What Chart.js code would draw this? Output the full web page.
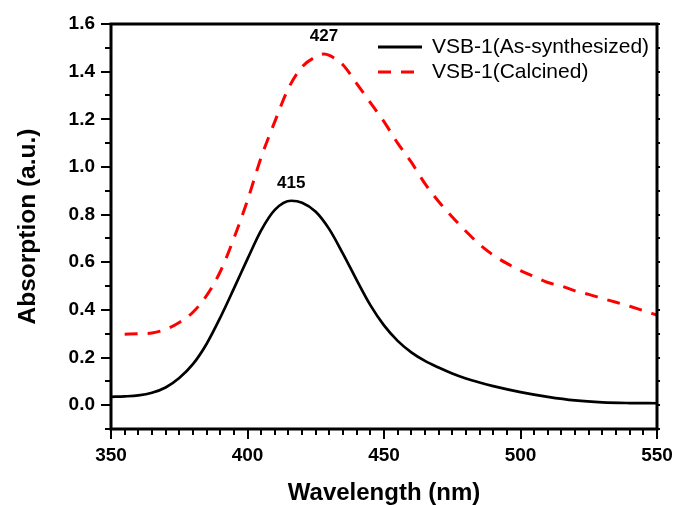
<!DOCTYPE html>
<html>
<head>
<meta charset="utf-8">
<script src="https://cdn.jsdelivr.net/npm/chart.js@4.4.0/dist/chart.umd.min.js"></script>
<style>
  html, body { margin: 0; padding: 0; background: #fff; }
  #wrap { width: 677px; height: 505px; }
</style>
</head>
<body>
<div id="wrap"><canvas id="uvChart" width="677" height="505"></canvas></div>
<script>
// wavelengths (nm) and absorption
const asSynthWl = [350, 355, 360, 365, 370, 375, 380, 385, 390, 395, 400, 405, 410, 416, 420, 425, 430, 435, 440, 445, 450, 455, 460, 465, 470, 475, 480, 485, 490, 500, 510, 520, 530, 540, 550];
const asSynthAbs = [0.035, 0.037, 0.041, 0.052, 0.074, 0.114, 0.172, 0.257, 0.367, 0.489, 0.614, 0.734, 0.82, 0.858, 0.85, 0.812, 0.738, 0.635, 0.525, 0.42, 0.335, 0.27, 0.222, 0.186, 0.158, 0.133, 0.112, 0.095, 0.08, 0.055, 0.035, 0.02, 0.012, 0.009, 0.008];

const calcinedWl = [355, 360, 365, 370, 375, 380, 385, 390, 395, 400, 405, 410, 415, 420, 425, 428, 430, 435, 440, 445, 450, 455, 460, 465, 470, 475, 480, 485, 490, 495, 500, 505, 510, 515, 520, 525, 530, 535, 540, 545, 550];
const calcinedAbs = [0.298, 0.300, 0.303, 0.318, 0.347, 0.39, 0.46, 0.56, 0.70, 0.86, 1.04, 1.19, 1.33, 1.42, 1.462, 1.474, 1.468, 1.428, 1.35, 1.27, 1.19, 1.10, 1.02, 0.93, 0.855, 0.79, 0.73, 0.675, 0.63, 0.595, 0.565, 0.54, 0.515, 0.50, 0.48, 0.465, 0.448, 0.432, 0.415, 0.397, 0.378];

const seriesNames = ['VSB-1(As-synthesized)', 'VSB-1(Calcined)'];
const peakWl = [415, 427];
const peakAbs = [0.858, 1.474];

const xTicks = [350, 400, 450, 500, 550];
const yTicks = [0.0, 0.2, 0.4, 0.6, 0.8, 1.0, 1.2, 1.4, 1.6];

const FONT = '"Liberation Sans", Arial, sans-serif';

function toPoints(xs, ys) {
  return xs.map((x, i) => ({ x: x, y: ys[i] }));
}

// frame, minor/major ticks, peak labels and the legend
const decor = {
  id: 'decor',
  afterDatasetsDraw(chart) {
    const { ctx, chartArea: a, scales: { x, y } } = chart;
    ctx.save();
    ctx.strokeStyle = '#000';
    ctx.lineWidth = 3;
    ctx.strokeRect(a.left, a.top, a.right - a.left, a.bottom - a.top);

    ctx.lineWidth = 2;
    ctx.beginPath();
    for (let w = 350; w <= 550; w += 5) {
      const px = Math.round(x.getPixelForValue(w));
      const len = (w % 50 === 0) ? 10 : 6;
      ctx.moveTo(px, a.bottom);
      ctx.lineTo(px, a.bottom + len);
    }
    for (let k = -1; k <= 16; k++) {
      const py = Math.round(y.getPixelForValue(k / 10));
      const len = (k % 2 === 0) ? 10 : 6;
      ctx.moveTo(a.left, py);
      ctx.lineTo(a.left - len, py);
      ctx.moveTo(a.right, py);
      ctx.lineTo(a.right + 3, py);
    }
    ctx.stroke();

    // peak labels
    ctx.fillStyle = '#000';
    ctx.font = 'bold 17px ' + FONT;
    ctx.textAlign = 'center';
    ctx.textBaseline = 'bottom';
    peakWl.forEach((w, i) => {
      ctx.fillText(String(w), x.getPixelForValue(w + 1), y.getPixelForValue(peakAbs[i]) - 9);
    });

    // legend
    ctx.font = '21px ' + FONT;
    ctx.textAlign = 'left';
    ctx.textBaseline = 'middle';
    chart.data.datasets.forEach((ds, i) => {
      const ly = a.top + 23 + i * 25;
      const lx = a.right - 279;
      ctx.strokeStyle = ds.borderColor;
      ctx.lineWidth = 3;
      ctx.setLineDash(ds.borderDash || []);
      ctx.beginPath();
      ctx.moveTo(lx, ly);
      ctx.lineTo(lx + 44, ly);
      ctx.stroke();
      ctx.setLineDash([]);
      ctx.fillText(ds.label, lx + 54, ly);
    });
    ctx.restore();
  }
};

const ctx = document.getElementById('uvChart').getContext('2d');

new Chart(ctx, {
  type: 'line',
  data: {
    datasets: [{
      label: seriesNames[0],
      data: toPoints(asSynthWl, asSynthAbs),
      borderColor: '#000000',
      borderWidth: 2.7,
      pointRadius: 0,
      cubicInterpolationMode: 'monotone',
      fill: false
    }, {
      label: seriesNames[1],
      data: toPoints(calcinedWl, calcinedAbs),
      borderColor: '#ff0000',
      borderWidth: 3,
      borderDash: [13, 10],
      pointRadius: 0,
      cubicInterpolationMode: 'monotone',
      fill: false
    }]
  },
  options: {
    responsive: false,
    animation: false,
    layout: { padding: { left: 0, top: 24, right: 20, bottom: 0 } },
    plugins: {
      legend: { display: false },
      tooltip: { enabled: false }
    },
    scales: {
      x: {
        type: 'linear',
        min: 350,
        max: 550,
        afterFit(scale) {
          scale.height = 76;
          scale.paddingLeft = 0;
          scale.paddingRight = 0;
        },
        afterBuildTicks(scale) { scale.ticks = xTicks.map(v => ({ value: v })); },
        grid: { display: false, drawTicks: false },
        border: { display: false },
        ticks: {
          padding: 15,
          color: '#000',
          font: { family: FONT, size: 19, weight: 'bold' },
          maxRotation: 0
        },
        title: {
          display: true,
          text: 'Wavelength (nm)',
          color: '#000',
          font: { family: FONT, size: 24, weight: 'bold', lineHeight: 1 },
          padding: { top: 0, bottom: 0 }
        }
      },
      y: {
        min: -0.1,
        max: 1.6,
        afterFit(scale) {
          scale.width = 111;
          scale.paddingTop = 0;
          scale.paddingBottom = 0;
        },
        afterBuildTicks(scale) { scale.ticks = yTicks.map(v => ({ value: v })); },
        grid: { display: false, drawTicks: false },
        border: { display: false },
        ticks: {
          padding: 16,
          color: '#000',
          font: { family: FONT, size: 19, weight: 'bold' },
          callback: v => v.toFixed(1)
        },
        title: {
          display: true,
          text: 'Absorption (a.u.)',
          color: '#000',
          font: { family: FONT, size: 24.5, weight: 'bold', lineHeight: 1 },
          padding: { top: 16, bottom: 0 }
        }
      }
    }
  },
  plugins: [decor]
});
</script>
</body>
</html>
